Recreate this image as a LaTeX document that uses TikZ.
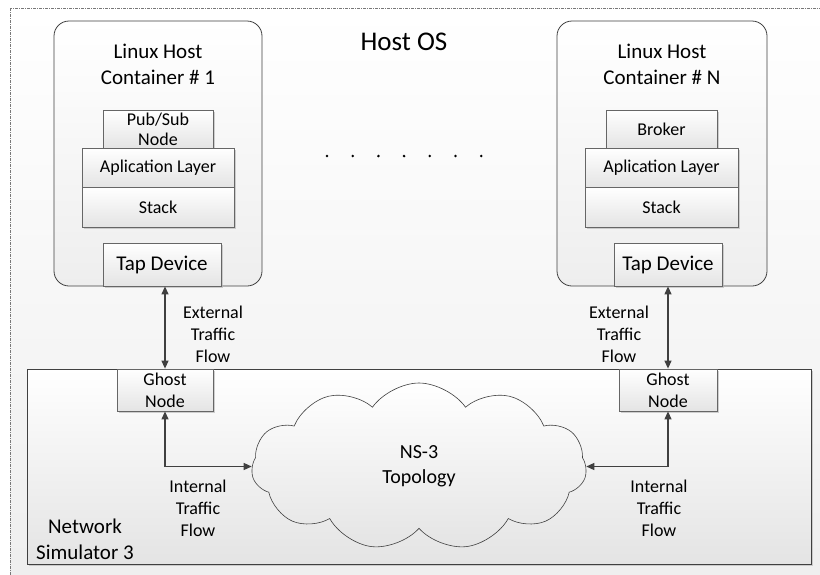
\documentclass[tikz,border=0pt]{standalone}
\usepackage{fontspec}
\setmainfont{Carlito}
\usetikzlibrary{arrows.meta, positioning, shapes.symbols, shadows}
\definecolor{edge}{RGB}{64,64,64}
\definecolor{boxbot}{RGB}{228,228,228}
\definecolor{bgbot}{RGB}{238,238,238}
\definecolor{hostline}{RGB}{120,120,120}

\begin{document}
\begin{tikzpicture}[x=1pt, y=-1pt,
  every node/.style={font=\fontsize{18}{22}\selectfont, align=center},
  container/.style={draw=edge, line width=0.8pt, rounded corners=15pt, top color=white, bottom color=bgbot, minimum width=#1, minimum height=265pt, inner sep=0pt},
  layer/.style={draw=edge!80, line width=0.8pt, top color=white, bottom color=boxbot, minimum width=#1, inner sep=0pt, drop shadow={shadow xshift=1.5pt, shadow yshift=-1.5pt, fill=black!30, opacity=0.6}},
  biarrow/.style={draw=edge, line width=1.2pt, {Triangle[length=8pt, width=7pt]}-{Triangle[length=8pt, width=7pt]}},
  bigtext/.style={font=\fontsize{21}{26}\selectfont}]
  \clip (0,0) rectangle (820,574);
  \useasboundingbox (0,0) rectangle (820,574);

  % Host OS
  \draw[hostline, line width=0.6pt, dash pattern=on 3pt off 1pt on 1pt off 1pt, top color=white, bottom color=bgbot] (10,8) rectangle (850,600);
  \node[font=\fontsize{27}{32}\selectfont] (hostos) at (404,42) {Host OS};
  \foreach \i in {0,...,6}
    \fill (327+25.7*\i,156) circle (1.4);

  % Containers
  \node[container=208pt] (cont1) at (158,153.5) {};
  \node[container=210pt] (contn) at (662,153.5) {};
  \node[bigtext] (title1) at (158,64) {Linux Host\\Container \# 1};
  \node[bigtext] (titlen) at (662,64) {Linux Host\\Container \# N};

  % Layers
  \node[layer=110pt, minimum height=38pt, font=\fontsize{18}{20}\selectfont] (pubsub) at (158,129) {Pub/Sub\\Node};
  \node[layer=152pt, minimum height=39pt] (app1) at (158,167.5) {Aplication Layer};
  \node[layer=152pt, minimum height=40pt] (stack1) at (158,207) {Stack};
  \node[layer=111pt, minimum height=38pt] (broker) at (661.5,129) {Broker};
  \node[layer=153pt, minimum height=39pt] (appn) at (661.5,167.5) {Aplication Layer};
  \node[layer=153pt, minimum height=40pt] (stackn) at (661.5,207) {Stack};

  % Tap devices
  \node[layer=118pt, minimum height=43pt, bigtext] (tap1) at (162,264.5) {Tap Device};
  \node[layer=108pt, minimum height=43pt, bigtext] (tapn) at (668,264.5) {Tap Device};

  % Simulator
  \node[layer=784pt, minimum height=195pt, draw=edge] (ns3) at (419,466.5) {};
  \node[bigtext] (nslabel) at (85,539) {Network\\Simulator 3};
  \node[layer=96pt, minimum height=42pt] (ghost1) at (165,390) {Ghost\\Node};
  \node[layer=98pt, minimum height=42pt] (ghostn) at (668,390) {Ghost\\Node};
  \node[cloud, cloud puffs=11, cloud puff arc=110, aspect=2, draw=edge, line width=0.6pt, top color=white, bottom color=boxbot, minimum width=335pt, minimum height=167pt, inner sep=0pt, font=\fontsize{20}{25}\selectfont] (topo) at (419,466.5) {NS-3\\Topology};

  \draw[biarrow] (ghost1.north) -- (ghost1.north |- tap1.south);
  \draw[biarrow] (ghostn.north) -- (ghostn.north |- tapn.south);
  \draw[biarrow] (ghost1.south) |- (topo.west);
  \draw[biarrow] (ghostn.south) |- (topo.east);

  \node (ext1) at (213,334.5) {External\\Traffic\\Flow};
  \node (extn) at (619,334.5) {External\\Traffic\\Flow};
  \node (int1) at (198,508.5) {Internal\\Traffic\\Flow};
  \node (intn) at (659,508.5) {Internal\\Traffic\\Flow};
\end{tikzpicture}
\end{document}
